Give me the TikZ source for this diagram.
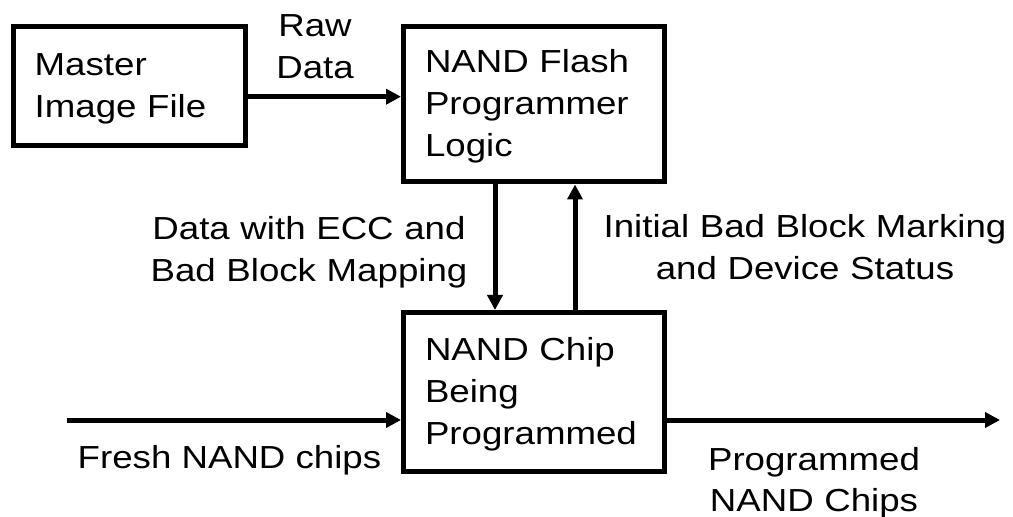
\documentclass[tikz,border=0pt]{standalone}
\usepackage{fontspec}
\setmainfont{Liberation Sans}[FakeStretch=1.15]
\usetikzlibrary{arrows.meta}
\begin{document}
\begin{tikzpicture}[x=1bp,y=-1bp,
  txt/.style={font=\fontsize{32}{42}\selectfont},
  box/.style={txt,draw,line width=5bp,rectangle,align=left,inner xsep=21.5bp,inner ysep=0pt,text height=27.5bp},
  lbl/.style={txt,align=center,inner sep=0pt,anchor=base},
  arr/.style={line width=5bp,-{Triangle[length=15bp,width=15bp]}}]
\useasboundingbox[fill=white] (0,0) rectangle (1013,517);
% boxes
\node[box,minimum width=232.3bp,minimum height=119bp,text width=189.3bp] (master) at (129.35,86) {Master\\Image File};
\node[box,minimum width=260.5bp,minimum height=155.5bp,text width=217.5bp] (flash) at (533.75,104.25) {NAND Flash\\Programmer\\Logic};
\node[box,minimum width=260.5bp,minimum height=159bp,text width=217.5bp] (chip) at (533.75,392) {NAND Chip\\Being\\Programmed};
% connectors
\coordinate (rawS) at ([yshift=-10.7bp]master.east);
\draw[arr] (rawS) -- (rawS -| flash.west);
\draw[arr] ([xshift=-38.75bp]flash.south) -- ([xshift=-38.75bp]chip.north);
\draw[arr] ([xshift=41.25bp]chip.north) -- ([xshift=41.25bp]flash.south);
\coordinate (in) at (66.7,420);
\draw[arr] (in) -- (in -| chip.west);
\coordinate (out) at (1000,420);
\draw[arr] (out -| chip.east) -- (out);
% labels
\node[lbl,text width=150bp] (raw) at (315,37) {Raw\\Data};
\node[lbl,text width=340bp] (ecc) at (309,240) {Data with ECC and\\Bad Block Mapping};
\node[lbl,text width=420bp] (init) at (805,238) {Initial Bad Block Marking\\and Device Status};
\node[lbl] (fresh) at (229.5,468) {Fresh NAND chips};
\node[lbl,text width=260bp] (prog) at (814,470) {Programmed\\NAND Chips};
\end{tikzpicture}
\end{document}
